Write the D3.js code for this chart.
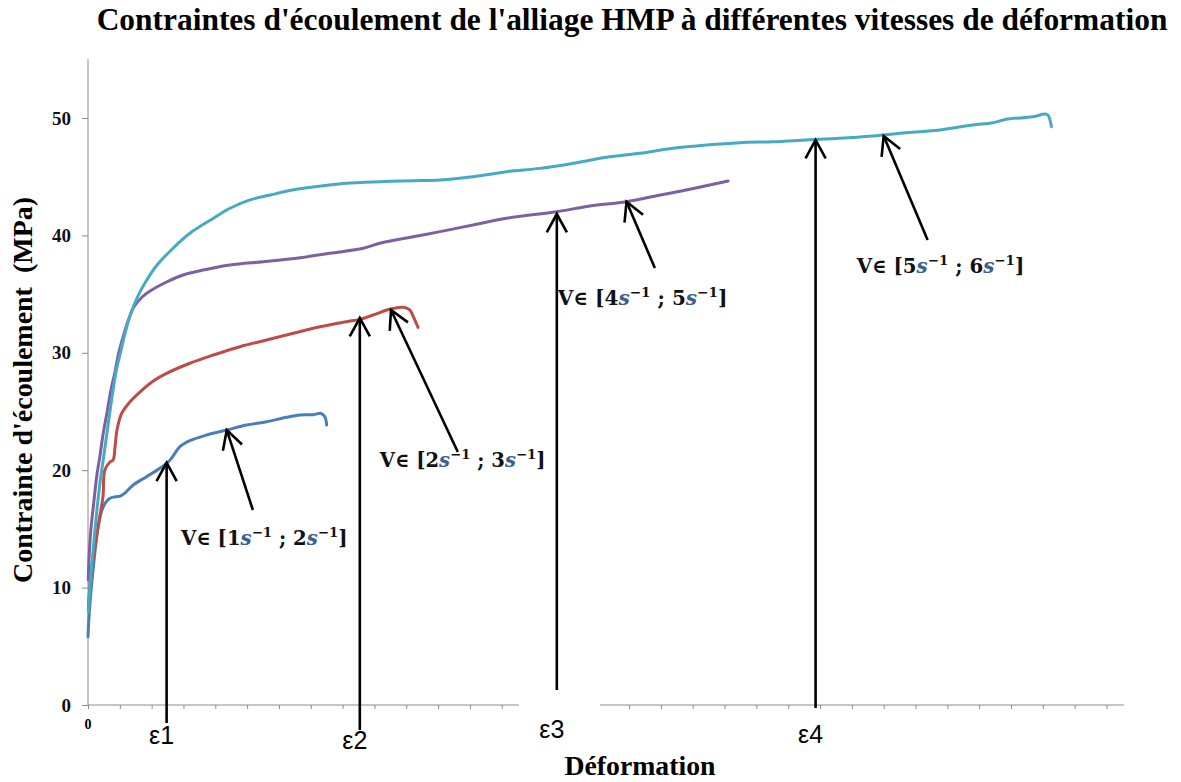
<!DOCTYPE html>
<html>
<head>
<meta charset="utf-8">
<script src="https://cdn.jsdelivr.net/npm/d3@7"></script>
<style>
  body { margin: 0; background: #fff; }
  svg { display: block; }
</style>
</head>
<body>
<svg id="chart" width="1181" height="782"></svg>
<script>
// strain (x) / flow stress in MPa (y)
const blueX = [0, 0.0004, 0.0017, 0.0032, 0.0048, 0.0069, 0.0101, 0.0116, 0.0142, 0.0184, 0.0226, 0.0258, 0.0289, 0.0320, 0.0373, 0.0436, 0.0498, 0.0561, 0.0624, 0.0666, 0.0708, 0.0731, 0.0744, 0.0750];
const blueY = [5.82, 7.84, 11.78, 15.19, 16.89, 17.61, 17.80, 18.06, 18.74, 19.45, 20.16, 20.87, 22.00, 22.51, 23.00, 23.42, 23.85, 24.13, 24.51, 24.70, 24.73, 24.85, 24.56, 23.85];

const redX = [0.0001, 0.0009, 0.0022, 0.0035, 0.0047, 0.0053, 0.0069, 0.0079, 0.0085, 0.0091, 0.0106, 0.0132, 0.0163, 0.0205, 0.0247, 0.0320, 0.0394, 0.0477, 0.0561, 0.0645, 0.0729, 0.0812, 0.0854, 0.0896, 0.0948, 0.0990, 0.1011, 0.1022, 0.1037];
const redY = [8.09, 11.07, 13.46, 15.76, 17.72, 20.02, 20.70, 20.87, 22.00, 23.42, 24.85, 25.83, 26.66, 27.60, 28.25, 29.11, 29.81, 30.52, 31.09, 31.66, 32.22, 32.65, 32.85, 33.22, 33.71, 33.88, 33.65, 33.08, 32.17];

const purpleX = [0.0001, 0.0003, 0.0009, 0.0019, 0.0028, 0.0038, 0.0047, 0.0060, 0.0072, 0.0085, 0.0097, 0.0113, 0.0129, 0.0144, 0.0170, 0.0195, 0.0247, 0.0299, 0.0362, 0.0446, 0.0551, 0.0655, 0.0760, 0.0865, 0.0917, 0.1022, 0.1106, 0.1210, 0.1315, 0.1472, 0.1577, 0.1692, 0.1786, 0.1891, 0.2011];
const purpleY = [10.65, 12.35, 14.91, 17.46, 19.59, 21.29, 23.00, 24.96, 26.83, 28.36, 30.07, 31.60, 32.96, 33.90, 34.75, 35.26, 36.03, 36.63, 37.05, 37.48, 37.76, 38.05, 38.48, 38.90, 39.33, 39.89, 40.32, 40.89, 41.46, 42.02, 42.50, 42.87, 43.38, 43.93, 44.63];

const cyanX = [0.0001, 0.0009, 0.0019, 0.0028, 0.0038, 0.0050, 0.0063, 0.0075, 0.0088, 0.0104, 0.0119, 0.0135, 0.0157, 0.0179, 0.0217, 0.0268, 0.0320, 0.0394, 0.0446, 0.0509, 0.0572, 0.0655, 0.0760, 0.0812, 0.0917, 0.1022, 0.1106, 0.1210, 0.1315, 0.1420, 0.1524, 0.1629, 0.1734, 0.1838, 0.1943, 0.2048, 0.2152, 0.2257, 0.2362, 0.2466, 0.2571, 0.2676, 0.2780, 0.2843, 0.2885, 0.2969, 0.3006, 0.3016, 0.3027];
const cyanY = [7.92, 11.07, 14.05, 16.61, 18.99, 21.29, 23.85, 26.15, 28.36, 30.24, 31.94, 33.39, 34.84, 35.95, 37.48, 38.93, 40.18, 41.46, 42.31, 43.02, 43.44, 43.93, 44.29, 44.44, 44.57, 44.66, 44.72, 45.00, 45.43, 45.71, 46.14, 46.65, 46.99, 47.42, 47.70, 47.90, 47.98, 48.13, 48.27, 48.47, 48.75, 48.98, 49.40, 49.60, 49.89, 50.11, 50.34, 50.26, 49.26];

const yTicks = [0, 10, 20, 30, 40, 50];

// vertical strain markers: x, arrow tip stress, line foot stress
const epsNames = ['ε1', 'ε2', 'ε3', 'ε4'];
const epsX = [0.0247, 0.0854, 0.1473, 0.2286];
const epsTip = [20.64, 32.96, 41.82, 48.13];
const epsFoot = [-1.53, -2.13, 1.28, -0.26];

// strain-rate labels with their pointing arrows
const rateLo = [1, 2, 4, 5];
const rateHi = [2, 3, 5, 6];
const labelX = [0.0292, 0.0917, 0.1476, 0.2415];
const labelY = [13.63, 20.27, 34.07, 36.80];
const arrowTipX = [0.0436, 0.0952, 0.1692, 0.2500];
const arrowTipY = [23.42, 33.65, 42.87, 48.47];
const arrowTailX = [0.0518, 0.1162, 0.1781, 0.2638];
const arrowTailY = [16.61, 21.55, 37.22, 39.61];

const series = [
  { xs: blueX, ys: blueY, color: '#4a7ebb' },
  { xs: redX, ys: redY, color: '#be4b48' },
  { xs: purpleX, ys: purpleY, color: '#7d60a0' },
  { xs: cyanX, ys: cyanY, color: '#46aac5' }
];

const svg = d3.select('#chart');
const serif = "'Liberation Serif', 'Times New Roman', serif";

const x = d3.scaleLinear().domain([0, 0.3255]).range([88, 1124]);
const y = d3.scaleLinear().domain([0, 55]).range([705, 59.3]);

// scale a text's font so it spans the width measured on the picture
function fitWidth(sel, width) {
  const fs = +sel.attr('font-size');
  const len = sel.node().getComputedTextLength();
  sel.attr('font-size', (fs * width / len).toFixed(2));
  sel.selectAll('tspan[data-small]').attr('font-size', (fs * 0.68 * width / len).toFixed(2));
}

// AXES
const axisColor = '#8c8c8c';
const yAxis = svg.append('g')
  .attr('transform', 'translate(88,0)')
  .call(d3.axisLeft(y).tickValues(yTicks).tickSize(6).tickFormat(d3.format('d')));
yAxis.select('.domain').attr('stroke', axisColor).attr('d', `M0,${y(55)}V${y(0)}`);
yAxis.selectAll('.tick line').attr('stroke', axisColor);
yAxis.selectAll('.tick text')
  .attr('x', -17)
  .attr('font-family', serif).attr('font-weight', 'bold').attr('font-size', 19).attr('fill', '#111');

const xAxis = svg.append('g')
  .attr('transform', 'translate(0,705)')
  .call(d3.axisBottom(x).tickValues(d3.range(0, 33).map(i => i / 100)).tickSize(4).tickFormat(''));
xAxis.select('.domain').attr('stroke', axisColor).attr('d', `M${x(0)},0H${x(0.3255)}`);
xAxis.selectAll('.tick line').attr('stroke', axisColor);

svg.append('text')
  .attr('x', x(0)).attr('y', 729)
  .attr('text-anchor', 'middle')
  .attr('font-family', serif).attr('font-weight', 'bold').attr('font-size', 14)
  .text('0');

// CURVES
const line = d3.line()
  .x(d => x(d[0]))
  .y(d => y(d[1]))
  .curve(d3.curveCatmullRom.alpha(0.5));

svg.append('g').selectAll('path')
  .data(series)
  .join('path')
  .attr('d', s => line(s.xs.map((v, i) => [v, s.ys[i]])))
  .attr('fill', 'none')
  .attr('stroke', s => s.color)
  .attr('stroke-width', 3)
  .attr('stroke-linejoin', 'round')
  .attr('stroke-linecap', 'round');

// ARROWS
function arrow(g, x0, y0, x1, y1) {
  const a = Math.atan2(y1 - y0, x1 - x0);
  const len = 21, spread = 0.5;
  g.append('line')
    .attr('x1', x0).attr('y1', y0).attr('x2', x1).attr('y2', y1);
  g.append('path')
    .attr('fill', 'none')
    .attr('d', `M${x1 - len * Math.cos(a - spread)},${y1 - len * Math.sin(a - spread)}L${x1},${y1}L${x1 - len * Math.cos(a + spread)},${y1 - len * Math.sin(a + spread)}`);
}

const arrows = svg.append('g').attr('stroke', '#000').attr('stroke-width', 2.6);
epsX.forEach((v, i) => arrow(arrows, x(v), y(epsFoot[i]), x(v), y(epsTip[i])));
arrowTipX.forEach((v, i) => arrow(arrows, x(arrowTailX[i]), y(arrowTailY[i]), x(v), y(arrowTipY[i])));

// white box behind the ε3 label cuts the axis
svg.append('rect')
  .attr('x', 519).attr('y', y(epsFoot[2])).attr('width', 81).attr('height', 55)
  .attr('fill', '#fff');

const epsBaseline = [744, 749, 738, 743];
svg.append('g').selectAll('text')
  .data(epsNames)
  .join('text')
  .attr('x', (d, i) => x(epsX[i]) - 5)
  .attr('y', (d, i) => epsBaseline[i])
  .attr('text-anchor', 'middle')
  .attr('font-family', "'Liberation Sans', Arial, sans-serif")
  .attr('font-size', 25)
  .attr('fill', '#000')
  .text(d => d);

// STRAIN-RATE LABELS
const labelFont = "'DejaVu Serif', Cambria, serif";
const labelWidth = [167, 166, 170, 168];
rateLo.forEach((lo, i) => {
  const t = svg.append('text')
    .attr('x', x(labelX[i])).attr('y', y(labelY[i]))
    .attr('font-family', labelFont).attr('font-weight', 'bold').attr('font-size', 19)
    .attr('fill', '#111');
  t.append('tspan').text(`V∈ [${lo}`);
  t.append('tspan').attr('font-style', 'italic').attr('fill', '#3d5f8c').text('s');
  t.append('tspan').attr('data-small', 1).attr('font-size', 13).attr('dy', -8).text('−1');
  t.append('tspan').attr('dy', 8).text(` ; ${rateHi[i]}`);
  t.append('tspan').attr('font-style', 'italic').attr('fill', '#3d5f8c').text('s');
  t.append('tspan').attr('data-small', 1).attr('font-size', 13).attr('dy', -8).text('−1');
  t.append('tspan').attr('dy', 8).text(']');
  fitWidth(t, labelWidth[i]);
});

// TITLES
const title = svg.append('text')
  .attr('x', 632).attr('y', 30)
  .attr('text-anchor', 'middle')
  .attr('font-family', serif).attr('font-weight', 'bold').attr('font-size', 30)
  .text("Contraintes d'écoulement de l'alliage HMP à différentes vitesses de déformation");
fitWidth(title, 1071);

const yTitle = svg.append('text')
  .attr('transform', 'translate(32,390) rotate(-90)')
  .attr('text-anchor', 'middle')
  .attr('font-family', serif).attr('font-weight', 'bold').attr('font-size', 26)
  .attr('xml:space', 'preserve')
  .text("Contrainte d'écoulement  (MPa)");
fitWidth(yTitle, 386);

const xTitle = svg.append('text')
  .attr('x', 640).attr('y', 775)
  .attr('text-anchor', 'middle')
  .attr('font-family', serif).attr('font-weight', 'bold').attr('font-size', 26)
  .text('Déformation');
fitWidth(xTitle, 151);
</script>
</body>
</html>
